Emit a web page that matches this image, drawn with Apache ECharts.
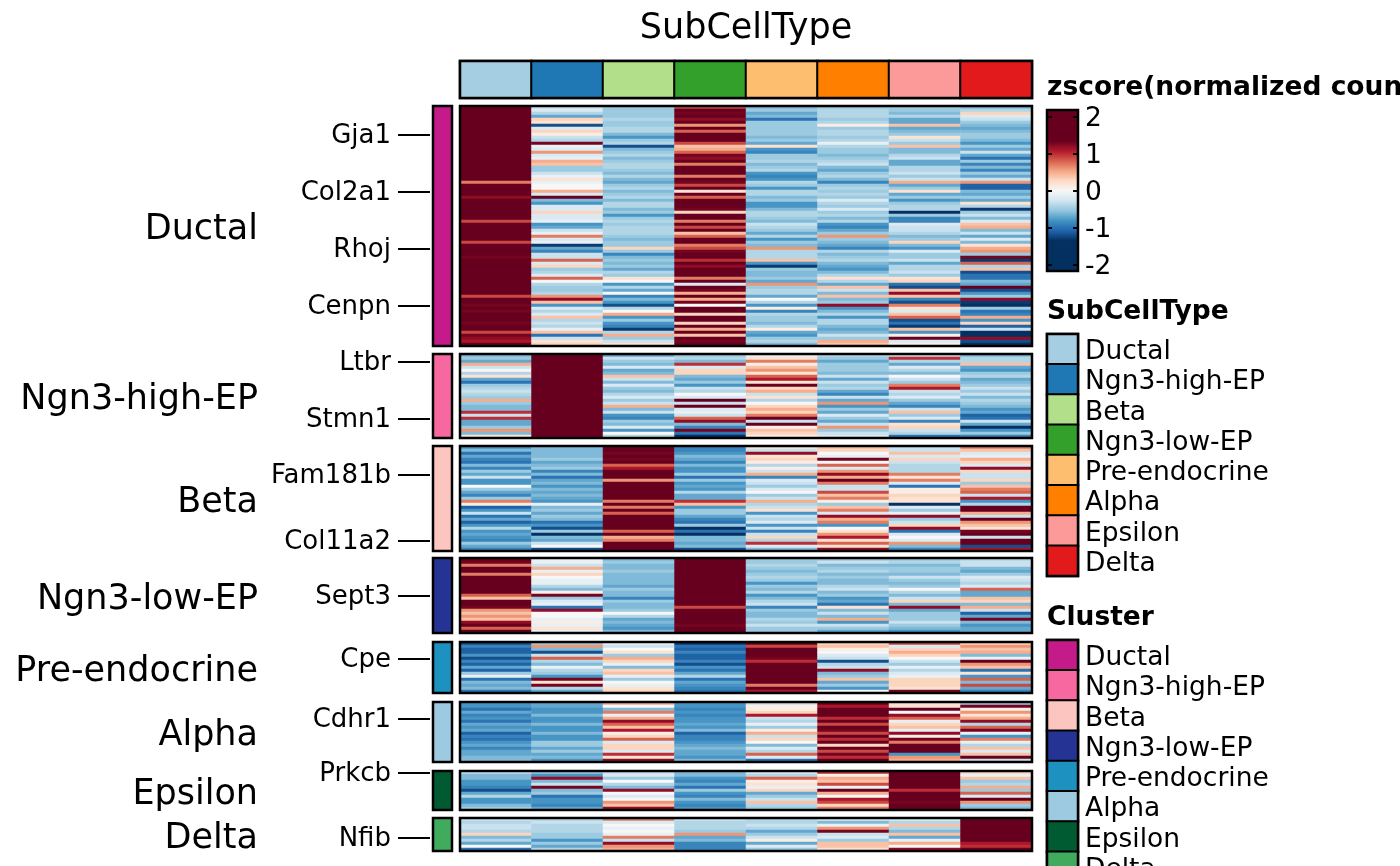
<!DOCTYPE html>
<html><head><meta charset="utf-8">
<style>html,body{margin:0;padding:0;background:#fff;overflow:hidden}#c{width:1400px;height:866px}</style>
<script src="https://cdn.jsdelivr.net/npm/echarts@6/dist/echarts.min.js"></script>
</head><body><div id="c"></div>
<script>
const subCellTypes=['Ductal','Ngn3-high-EP','Beta','Ngn3-low-EP','Pre-endocrine','Alpha','Epsilon','Delta'];
const subCellColors=['#A6CEE3','#1F78B4','#B2DF8A','#33A02C','#FDBF6F','#FF7F00','#FB9A99','#E31A1C'];
const clusterColors=['#C51B8A','#F768A1','#FCC5C0','#253494','#1D91C0','#9ECAE1','#005A32','#41AB5D'];
const colorbarTicks=[-2,-1,0,1,2];
const genes=[['Gja1','Col2a1','Rhoj','Cenpn'],['Ltbr','Stmn1'],['Fam181b','Col11a2'],['Sept3'],['Cpe'],['Cdhr1'],['Prkcb'],['Nfib']];
const geneRows=[[9,28,47,66],[2,21],[9,31],[12],[5],[5],[0],[6]];
// z-scores in tenths, one line per row of each panel, one value per SubCellType
const ductal=[
[20,-3,-5,9,-6,-5,-5,-6],[20,-2,-5,14,-5,-4,-5,-4],[16,-4,-5,13,-7,-4,-6,3],[20,-7,-5,17,-6,-4,-4,-2],[15,3,-4,12,-10,-5,-7,-3],[15,2,-5,15,-5,-4,-7,-5],[20,-12,-5,6,-5,1,4,-6],[20,-2,-4,16,-5,-5,-7,-7],[20,3,-4,8,-5,-4,-6,-6],[20,1,-6,15,-5,-4,-5,-5],
[14,-3,-8,17,-6,-5,2,-5],[20,-4,-5,14,-5,-4,-3,-6],[16,13,-4,9,-7,-1,-5,-8],[20,-1,-12,4,2,-4,4,-5],[20,-2,-6,5,-8,-5,-6,-7],[20,6,-5,8,-9,-5,-6,-3],[17,-2,-4,13,-5,-6,-4,-7],[20,-1,-6,12,-5,-5,-3,-10],[20,5,-5,16,-4,-4,-7,-5],[20,4,-4,7,-6,-3,-7,-9],
[20,-5,-4,14,-5,-6,-4,-6],[20,-5,-5,16,-4,-7,-4,-9],[20,-3,-6,17,-8,-5,-3,-5],[17,-1,-4,7,-9,-4,-5,-7],[20,2,-6,17,-8,-6,-3,-3],[7,-1,-7,13,-4,-9,5,6],[20,0,-5,9,-5,-5,-7,-11],[20,0,-4,16,-8,-4,-5,-11],[20,5,-6,2,-4,-5,2,-6],[20,-2,-5,17,-4,-4,-7,-7],
[12,14,-4,8,-6,-5,-5,-5],[20,-6,-6,14,-5,-2,-8,-7],[16,-8,-4,15,-8,-4,-5,2],[20,-2,-4,17,-8,-5,-4,-4],[20,-2,-6,13,-6,-2,-4,-13],[15,3,-5,3,-4,-5,-14,-5],[14,-2,-8,17,-4,-4,-5,-3],[20,-2,-5,15,-5,-6,-9,-6],[9,-1,-4,7,-6,-4,-9,-2],[20,-8,-5,14,-3,-8,-2,4],
[17,-7,-4,9,-4,-9,-3,5],[19,-3,-4,15,-5,-7,-3,-6],[16,-1,-4,4,-7,-5,-4,-3],[14,7,-5,8,-4,6,-6,-7],[18,-2,-6,14,-8,-5,-5,-2],[9,-1,-5,17,-5,-6,3,-6],[20,-13,-5,7,-6,-7,-6,2],[18,-7,3,9,6,-9,-8,5],[19,-9,-5,13,-4,-4,-2,6],[16,-3,-9,15,-4,-6,-5,-5],
[13,-3,-6,17,-4,-5,-5,13],[20,8,-5,10,4,-4,-3,-13],[18,-2,-6,16,-8,-6,-7,8],[20,3,-5,12,-13,-7,-4,-4],[14,-5,-7,17,-5,-8,-4,4],[19,-4,-4,14,-6,-6,-3,-12],[17,-2,-5,16,-6,-4,-5,-10],[16,8,2,7,-5,2,2,-10],[20,0,0,15,-7,-4,3,-6],[18,-4,-8,-2,6,-7,-10,-7],
[17,-5,-4,16,-5,4,-12,14],[19,-5,-7,13,-4,-3,4,-12],[20,-4,0,5,-4,-6,12,-8],[9,6,-9,15,-7,4,4,-5],[18,12,-6,5,0,-6,-9,12],[19,4,-8,13,-4,-5,-12,-13],[13,-8,-12,0,-8,12,7,-15],[18,-2,-4,14,1,-8,2,-5],[13,-4,0,19,-9,-6,-2,-10],[18,-2,5,3,-4,-4,4,-9],
[16,4,-8,17,-5,-8,8,5],[17,-4,-5,15,-5,-4,-12,-8],[13,-3,-8,3,-6,-4,-10,3],[19,-4,-9,16,-4,-6,-13,-11],[17,-1,-13,5,1,-7,4,-3],[9,4,-4,19,-7,-6,-8,-14],[13,-10,5,4,-8,-3,1,-15],[12,-3,-5,15,-5,-5,15,12],[11,2,-3,13,-4,5,-2,-12],[14,3,2,17,-6,4,1,-16]
];
const ngn3High=[
[-6,20,-7,-5,-1,-4,-3,-6],[-5,20,-3,-4,2,-5,10,-4],[-7,20,-5,-6,7,-7,-4,-4],[5,20,-6,10,1,-5,-7,4],[-3,20,-2,-2,4,-5,-2,-7],[0,20,-7,3,6,-5,-4,-8],[-4,20,-6,3,2,-6,-6,-5],[2,20,4,-6,8,-3,0,-4],[-7,20,-3,-7,11,-7,-3,-7],[-10,20,-6,-5,2,-3,-5,-6],
[-5,20,-2,-8,14,-5,7,-5],[-4,20,-5,-3,3,-4,11,-3],[-3,20,-6,-4,5,-7,-3,-5],[-4,20,-4,0,-3,-9,-4,-3],[-5,20,-2,-2,2,-3,-2,-6],[5,20,-5,14,-4,-7,-5,-4],[-5,20,-3,-3,0,6,-7,-5],[-6,20,5,15,3,-8,-9,-6],[-6,17,-6,-2,5,-5,-3,-8],[10,20,-3,-1,3,-7,4,-7],
[-3,16,-8,-3,7,-2,-5,-11],[10,20,-9,8,14,-5,-2,-10],[-7,20,-5,12,-3,-7,-9,-3],[-7,20,-6,-6,15,-3,2,-7],[-5,20,-2,-9,1,6,3,-14],[6,15,-8,13,4,-5,-3,-8],[-6,20,0,-10,3,-3,-4,-5],[2,16,-4,-14,1,-2,-10,-9]
];
const beta=[
[-8,-6,20,-9,2,4,-3,7],[-6,-6,14,-9,-3,3,-3,4],[-10,-6,13,-8,12,0,4,-2],[-7,-6,20,-6,2,-1,-2,-1],[-9,-5,13,-7,3,13,3,5],[-10,-7,20,-9,1,0,-3,3],[-6,-6,8,-6,-4,8,-4,-2],[-9,-5,11,-8,1,-2,-4,12],[-5,-9,20,-8,-3,6,-4,3],[-7,-6,14,-5,5,12,7,-3],
[-3,-10,16,-10,-9,5,2,-3],[-8,-7,6,-5,-2,14,7,3],[-8,-6,20,-8,-3,7,-2,-5],[0,-8,20,-7,-5,-3,-10,4],[-5,-6,20,-8,-2,-3,1,7],[-7,-7,20,-4,0,9,1,8],[-9,-6,20,-7,-5,4,3,-3],[-5,-7,20,-7,-3,7,2,11],[7,-8,7,10,5,1,2,-8],[1,-1,17,4,-4,-5,-14,-4],
[-11,-6,7,-8,-3,4,-2,16],[-8,-5,19,-5,2,7,-5,14],[-3,-7,8,-5,-8,-2,-1,5],[-10,-5,17,-7,-3,12,12,-3],[-7,-6,20,-9,-4,5,-5,17],[-11,-10,19,-10,-2,7,-3,6],[-8,-8,20,-5,-8,-8,3,4],[-4,-12,19,-14,-3,0,12,2],[-8,-5,8,-10,-9,2,-10,13],[-7,-14,15,-15,-3,6,-2,16],
[-8,-6,5,-6,3,11,0,-3],[-9,-7,7,-6,-4,2,-2,20],[-5,-3,20,-7,10,8,6,20],[-7,0,20,-6,-2,2,-6,-12],[-9,-12,17,-12,-6,12,-9,11]
];
const ngn3Low=[
[15,-1,-6,20,-5,-5,-5,-4],[13,-1,-5,20,-5,-3,-4,-3],[7,-3,-6,20,-4,-6,-6,-3],[18,5,-6,20,-5,-5,-5,-6],[16,-1,-5,20,-6,-4,-5,-7],[7,3,-6,16,-5,-6,-6,-5],[19,0,-6,20,-4,-5,-3,-2],[15,-1,-6,15,-5,-6,-5,-3],[17,-1,-6,20,-8,-6,-6,-4],[14,-4,-7,20,-5,-4,-5,-2],
[16,-6,-5,20,-6,-3,0,8],[18,1,-6,20,-4,-6,-4,-7],[8,13,-6,14,-8,-5,-6,-7],[4,-5,-9,16,-6,-8,-3,4],[16,-2,-5,20,-4,-7,3,3],[17,-1,-6,20,-3,-10,-6,-6],[13,-10,-6,9,-9,2,12,5],[6,12,-5,16,-5,-6,-7,-3],[4,0,0,20,-6,-3,-5,-11],[6,0,-4,20,-6,-6,-5,-7],
[4,-1,-7,20,-4,5,-5,13],[12,1,-6,20,-5,-8,-3,-6],[18,-1,-7,13,-3,-3,-5,-8],[8,2,-8,16,-5,-5,-6,-7],[18,-1,-6,20,-5,-7,-8,-7]
];
const preEndocrine=[
[-12,-5,-1,-13,20,3,9,3],[-9,6,-3,-10,9,4,-2,6],[-11,-6,0,-11,20,1,3,4],[-11,-12,2,-9,14,0,5,5],[-8,-3,-5,-11,20,-2,3,-6],[-12,8,5,-11,13,-3,0,-1],[-9,-4,3,-9,10,-12,-3,14],[-11,-6,-1,-12,19,-4,-5,6],[-7,-1,-6,-8,20,-3,-1,4],
[-11,-4,3,-10,16,12,-4,-10],[-5,-5,4,-7,20,-6,-2,2],[-1,-8,-1,-4,20,-5,-1,-8],[-10,13,-5,-10,15,4,3,8],[-6,2,0,-7,20,-7,3,-6],[-7,13,-1,-8,7,-5,3,9],[-6,-4,2,-9,20,-8,2,-7],[-10,-7,3,-10,11,0,13,-9]
];
const alpha=[
[-8,-7,5,-8,-3,17,2,-5],[-8,-7,0,-8,1,11,2,13],[-10,-8,-6,-9,1,16,14,1],[-7,-8,7,-8,3,20,0,6],[-9,-6,-1,-9,11,18,12,2],[-8,-8,5,-8,-3,10,8,5],[-10,-8,12,-8,-4,19,-1,12],[-7,-6,8,-7,-1,9,3,-4],[-8,-8,4,-8,-5,17,4,8],[-7,-8,11,-6,1,13,-1,13],
[-11,-6,1,-11,5,9,12,-1],[-9,-8,3,-9,-3,20,1,-8],[-10,-8,8,-9,3,10,13,7],[-8,-5,-2,-8,0,16,7,-1],[-7,-5,3,-7,-6,3,15,-4],[-9,-7,3,-6,-2,19,15,4],[-7,-5,-2,-7,-4,9,14,-2],[-7,-7,10,-7,8,13,-8,4],[-6,-6,2,-8,-2,10,6,14],[-6,-8,12,-6,-10,16,5,-3]
];
const epsilon=[
[-3,-5,-3,-6,-2,10,20,3],[-6,-8,-2,-6,-4,1,20,-1],[-6,12,-5,-8,8,5,16,4],[-8,-6,0,-9,1,4,18,-5],[-8,-3,-4,-7,2,9,20,-4],[-9,13,-6,-10,-1,-1,18,5],[-12,-6,12,-5,3,15,10,-5],[-7,-5,0,-8,-7,5,20,8],[-4,-10,-2,-9,-5,0,20,-2],
[-8,-8,0,-6,-3,11,17,14],[-8,-8,6,-8,4,9,13,6],[-6,-9,4,-9,-4,3,14,-5],[-5,-7,12,-8,-5,7,19,-6]
];
const delta=[
[-3,-4,7,-3,-4,-2,-2,20],[-4,-3,-2,-4,-4,-6,-4,19],[-3,-4,0,-4,-3,-1,4,20],[-3,-4,-1,-4,-4,6,-4,19],[-4,-4,0,-5,-7,13,-6,20],[3,-5,-1,6,-5,-3,4,20],
[-6,-5,7,-7,-3,-2,-7,20],[-4,-8,-3,-6,1,-5,-1,20],[-7,-5,12,-9,-7,4,5,11],[0,-7,6,-9,-2,4,0,10],[-10,-4,5,-9,-5,2,12,20]
];
const panels=[ductal,ngn3High,beta,ngn3Low,preEndocrine,alpha,epsilon,delta];
const rdbu=['#053061','#053061','#053061','#053061','#2166AC','#4393C3','#92C5DE','#D1E5F0','#F7F7F7','#FDDBC7','#F4A582','#D6604D','#B2182B','#67001F','#67001F','#67001F','#67001F'];
const panelBoxes=[[106,240],[354,84],[446,105],[558,75],[642,51],[702,60],[771,39],[818,33]];
const font='"DejaVu Sans"';
const grids=[],xAxes=[],yAxes=[],series=[],matrixIdx=[],subIdx=[],cluIdx=[];
function addGrid(box,xData,yData,yOpt,xOpt){
  const i=grids.length;
  grids.push(Object.assign({show:true,z:5,backgroundColor:'transparent',borderColor:'#000',borderWidth:2.5,containLabel:false,outerBoundsMode:'none'},box));
  xAxes.push(Object.assign({type:'category',gridIndex:i,data:xData,show:false},xOpt||{}));
  yAxes.push(Object.assign({type:'category',gridIndex:i,data:yData,show:false,inverse:true},yOpt||{}));
  return i;
}
function heat(i,data,bucket,extra){
  bucket.push(series.length);
  series.push(Object.assign({type:'heatmap',xAxisIndex:i,yAxisIndex:i,data:data,progressive:0,animation:false,silent:true,emphasis:{disabled:true},itemStyle:{borderWidth:0}},extra||{}));
}
const blackCell={itemStyle:{borderColor:'#000',borderWidth:2}};
// top annotation
heat(addGrid({left:460,width:572,top:61,height:37},subCellTypes,['SubCellType']),subCellTypes.map((_,k)=>[k,0,k]),subIdx,blackCell);
// panels
panels.forEach((rows,p)=>{
  const [top,h]=panelBoxes[p];
  const rowNames=rows.map((_,r)=>String(r));
  const data=[];
  rows.forEach((row,r)=>row.forEach((v,c)=>data.push([c,r,v/10])));
  heat(addGrid({left:460,width:572,top:top,height:h},subCellTypes,rowNames),data,matrixIdx);
  const show=(idx)=>geneRows[p].indexOf(idx)>=0;
  const ann=addGrid({left:433,width:19,top:top,height:h},['c'],rowNames,{
    show:true,offset:3,name:subCellTypes[p],nameLocation:'middle',nameGap:172,nameRotate:0,
    nameTextStyle:{fontFamily:font,fontSize:35,color:'#000',align:'right',verticalAlign:'top',lineHeight:8},
    axisLine:{show:false},
    axisTick:{show:true,alignWithLabel:true,length:32,interval:(idx)=>show(idx),lineStyle:{color:'#000',width:2}},
    axisLabel:{show:true,interval:(idx)=>show(idx),margin:39,verticalAlign:'top',lineHeight:4,fontFamily:font,fontSize:26,color:'#000',
      formatter:(v)=>genes[p][geneRows[p].indexOf(Number(v))]}
  });
  heat(ann,rows.map((_,r)=>[0,r,p]),cluIdx);
});
// colour bar: one cell per level, 37 levels per unit of z-score
const levels=[];for(let k=-80;k<=80;k++)levels.push(k);
const isTick=(idx)=>colorbarTicks.indexOf(levels[idx]/37)>=0;
const cbTick={show:true,inside:true,alignWithLabel:true,length:5,interval:(i)=>isTick(i),lineStyle:{color:'#000',width:2}};
const cb=addGrid({left:1047,width:31,top:110,height:161},['z'],levels.map(String),{show:true,inverse:false,position:'right',z:6,
  axisLine:{show:false},axisTick:cbTick,
  axisLabel:{show:true,interval:(i)=>isTick(i),margin:7,verticalAlign:'top',lineHeight:6,fontFamily:font,fontSize:26.5,color:'#000',formatter:(v)=>String(Number(v)/37)}});
heat(cb,levels.map((v,r)=>[0,r,v/37]),matrixIdx);
// legends
const legendStyle={show:true,axisLine:{show:false},axisTick:{show:false},position:'right',
  axisLabel:{show:true,interval:0,margin:7,verticalAlign:'top',lineHeight:6,fontFamily:font,fontSize:26.5,color:'#000'}};
heat(addGrid({left:1047,width:31,top:334,height:242},['k'],subCellTypes,legendStyle),subCellTypes.map((_,k)=>[0,k,k]),subIdx,blackCell);
heat(addGrid({left:1047,width:31,top:640,height:242},['k'],subCellTypes,legendStyle),subCellTypes.map((_,k)=>[0,k,k]),cluIdx,blackCell);
// left-hand tick marks of the colour bar
yAxes.push({type:'category',gridIndex:cb,data:levels.map(String),position:'left',z:6,axisLine:{show:false},axisLabel:{show:false},axisTick:cbTick});
const tt=(text,x,y,size,weight,align)=>({text:text,left:x,top:y,padding:0,textAlign:align,textStyle:{fontFamily:font,fontSize:size,fontWeight:weight,color:'#000'}});
const chart=echarts.init(document.getElementById('c'),null,{renderer:'canvas',width:1400,height:866});
chart.setOption({
  animation:false,backgroundColor:'#fff',
  title:[tt('SubCellType',746,11,35,'normal','center'),tt('zscore(normalized counts)',1047,75,26.5,'bold','left'),tt('SubCellType',1047,299,26.5,'bold','left'),tt('Cluster',1047,605,26.5,'bold','left')],
  grid:grids,xAxis:xAxes,yAxis:yAxes,series:series,
  visualMap:[
    {type:'continuous',show:false,min:-2.16,max:2.16,dimension:2,seriesIndex:matrixIdx,inRange:{color:rdbu}},
    {type:'piecewise',show:false,dimension:2,seriesIndex:subIdx,pieces:subCellColors.map((c,k)=>({value:k,color:c}))},
    {type:'piecewise',show:false,dimension:2,seriesIndex:cluIdx,pieces:clusterColors.map((c,k)=>({value:k,color:c}))}
  ]
});
</script></body></html>
